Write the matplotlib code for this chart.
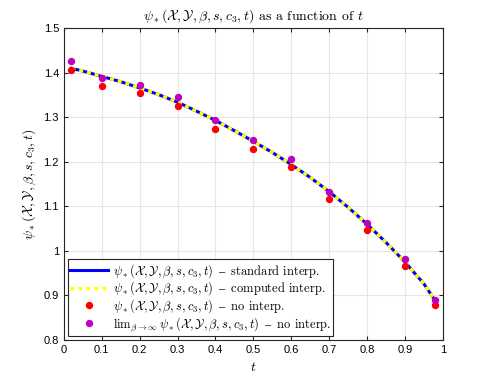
import numpy as np
import matplotlib.pyplot as plt

plt.rcParams['mathtext.fontset'] = 'cm'
plt.rcParams['font.family'] = ['Liberation Sans', 'DejaVu Sans']

# interpolated curve
t_curve = [0.02, 0.05, 0.1, 0.15, 0.2, 0.25, 0.3, 0.35, 0.4, 0.45, 0.5,
           0.55, 0.6, 0.65, 0.7, 0.75, 0.8, 0.85, 0.9, 0.95, 0.98]
psi_curve = [1.410, 1.404, 1.392, 1.380, 1.366, 1.351, 1.334, 1.314, 1.293, 1.270, 1.246,
             1.221, 1.194, 1.165, 1.133, 1.098, 1.060, 1.019, 0.975, 0.926, 0.888]

# sample points
t_pts = [0.02, 0.1, 0.2, 0.3, 0.4, 0.5, 0.6, 0.7, 0.8, 0.9, 0.98]
psi_nointerp = [1.407, 1.371, 1.354, 1.326, 1.274, 1.229, 1.189, 1.116, 1.046, 0.966, 0.878]
psi_limit = [1.426, 1.389, 1.373, 1.346, 1.293, 1.248, 1.207, 1.133, 1.063, 0.981, 0.889]

psi = r'\psi_*(\mathcal{X},\mathcal{Y},\beta,s,c_3,t)'
dash = r'$\,\mathrm{–}\,$'
txt = ['cmr10', 'DejaVu Serif']

fig = plt.figure(figsize=(4.91, 3.82), dpi=100)
ax = fig.add_axes([0.130, 0.110, 0.772, 0.816])

ax.plot(t_curve, psi_curve, color='blue', lw=2.2,
        label=r'$%s$ %s standard interp.' % (psi, dash))
ax.plot(t_curve, psi_curve, color='yellow', lw=2.4, ls=(0, (1.2, 1.2)),
        label=r'$%s$ %s computed interp.' % (psi, dash))
ax.plot(t_pts, psi_nointerp, 'o', color='red', ms=4.3, ls='none',
        label=r'$%s$ %s no interp.' % (psi, dash))
ax.plot(t_pts, psi_limit, 'o', color='#c000c0', ms=4.3, ls='none',
        label=r'$\mathrm{lim}_{\beta\rightarrow\infty}\,%s$ %s no interp.' % (psi, dash))

ax.set_xlim(0, 1)
ax.set_ylim(0.8, 1.5)
ax.set_xticks(np.arange(0, 1.01, 0.1))
ax.set_xticklabels(['0', '0.1', '0.2', '0.3', '0.4', '0.5', '0.6', '0.7', '0.8', '0.9', '1'])
ax.set_yticks(np.arange(0.8, 1.51, 0.1))
ax.set_yticklabels(['0.8', '0.9', '1', '1.1', '1.2', '1.3', '1.4', '1.5'])
ax.tick_params(direction='in', top=True, right=True, labelsize=8, length=3, color='#262626')
for s in ax.spines.values():
    s.set_color('#262626')
    s.set_linewidth(0.8)
ax.grid(True, color='#e6e6e6', lw=0.8)
ax.set_axisbelow(True)

ax.set_title(r'$%s$ as a function of $t$' % psi, family=txt, fontsize=10)
ax.set_xlabel(r'$t$', fontsize=10)
ax.set_ylabel(r'$%s$' % psi, fontsize=10)

leg = ax.legend(loc='lower left', prop={'family': txt, 'size': 9}, fancybox=False,
                edgecolor='#262626', framealpha=1, borderpad=0.2, labelspacing=0.0,
                handlelength=3.0, handletextpad=0.4, borderaxespad=0.3)
leg.get_frame().set_linewidth(0.8)

fig.savefig('out.png', dpi=100)
